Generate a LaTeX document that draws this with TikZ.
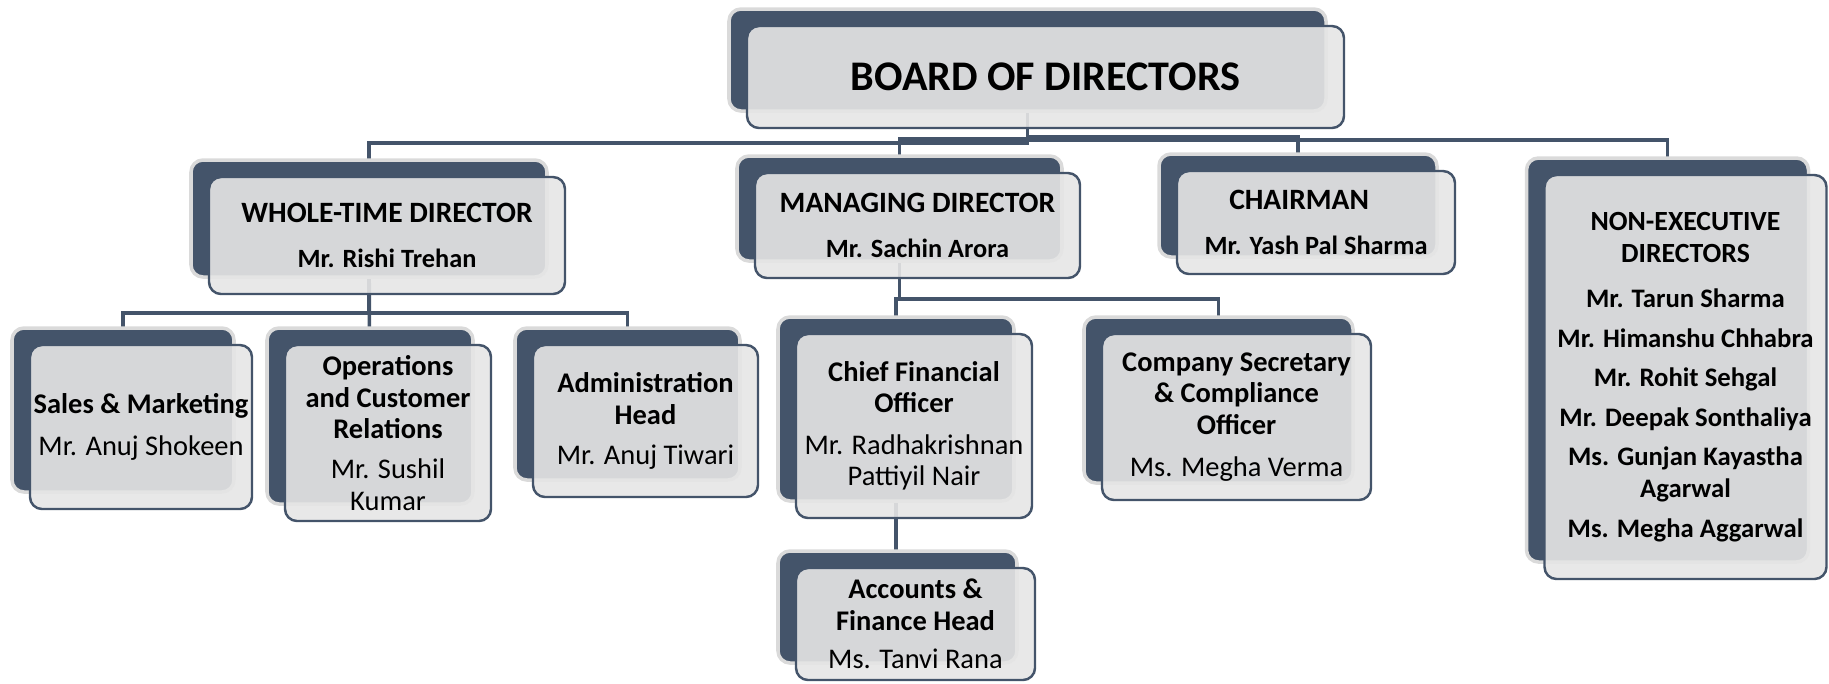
\documentclass[tikz,border=0pt]{standalone}
\usepackage{fontspec}
\setmainfont{Carlito}
\usetikzlibrary{shadows, backgrounds, positioning}
\definecolor{bdSlate}{HTML}{44546A}
\definecolor{bdFront}{HTML}{E6E6E6}
\definecolor{bdEdge}{HTML}{DADADA}
\tikzset{
  unit/.style     = {draw=bdSlate, fill=bdFront, fill opacity=0.9, text opacity=1,
                     line width=0.7pt, rounded corners=1.2mm, inner sep=0pt, align=center,
                     copy shadow={shadow xshift=-1.8mm, shadow yshift=1.7mm, fill=bdSlate,
                                  draw=bdEdge, fill opacity=1, draw opacity=1, line width=1pt}},
  conn/.style     = {bdSlate, line width=1pt},
  toptxt/.style   = {font=\bfseries\fontsize{8.4}{9.4}\selectfont},
  lowtxt/.style   = {font=\fontsize{8.1}{8.9}\selectfont},
  nedtxt/.style   = {font=\bfseries\fontsize{7.6}{9.2}\selectfont},
}

\begin{document}
\begin{tikzpicture}
  \useasboundingbox (0,0) rectangle (18.29,-6.83);

  % board
  \node[unit, minimum width=5.97cm, minimum height=1.02cm,
        font=\bfseries\fontsize{12}{14}\selectfont] (bod) at (10.455,-0.77) {BOARD OF DIRECTORS};

  % directors
  \node[unit, toptxt, minimum width=3.56cm, minimum height=1.17cm] (wtd) at (3.87,-2.355)
    {WHOLE-TIME DIRECTOR\\[3.2pt]{\fontsize{7.5}{9}\selectfont Mr. Rishi Trehan}};
  \node[unit, toptxt, minimum width=3.25cm, minimum height=1.05cm] (md) at (9.175,-2.255)
    {MANAGING DIRECTOR\\[3.2pt]{\fontsize{7.5}{9}\selectfont Mr. Sachin Arora}};
  \node[unit, toptxt, minimum width=2.78cm, minimum height=1.03cm] (chair) at (13.16,-2.225)
    {CHAIRMAN\hspace*{9.6pt}\\[3.2pt]{\fontsize{7.5}{9}\selectfont Mr. Yash Pal Sharma}};
  \node[unit, nedtxt, minimum width=2.82cm, minimum height=4.04cm] (ned) at (16.855,-3.77)
    {{\fontsize{7.9}{9.2}\selectfont NON-EXECUTIVE}\\{\fontsize{7.9}{9.2}\selectfont DIRECTORS}\\[3.6pt]
     Mr. Tarun Sharma\\[2pt]
     Mr. Himanshu Chhabra\\[2pt]
     Mr. Rohit Sehgal\\[2pt]
     Mr. Deepak Sonthaliya\\[2pt]
     Ms. Gunjan Kayastha\\ Agarwal\\[2pt]
     Ms. Megha Aggarwal};

  % heads
  \node[unit, lowtxt, minimum width=2.22cm, minimum height=1.64cm] (sales) at (1.41,-4.27)
    {\textbf{Sales \& Marketing}\\[3pt] Mr. Anuj Shokeen};
  \node[unit, lowtxt, minimum width=2.06cm, minimum height=1.76cm] (ops) at (3.88,-4.33)
    {\textbf{Operations}\\ \textbf{and Customer}\\ \textbf{Relations}\\[2.6pt] Mr. Sushil\\ Kumar};
  \node[unit, lowtxt, minimum width=2.25cm, minimum height=1.52cm] (admin) at (6.455,-4.21)
    {\textbf{Administration}\\ \textbf{Head}\\[2.6pt] Mr. Anuj Tiwari};
  \node[unit, lowtxt, minimum width=2.36cm, minimum height=1.84cm] (cfo) at (9.14,-4.26)
    {\textbf{Chief Financial}\\ \textbf{Officer}\\[3pt] Mr. Radhakrishnan\\ Pattiyil Nair};
  \node[unit, lowtxt, minimum width=2.69cm, minimum height=1.66cm] (cs) at (12.365,-4.17)
    {\textbf{Company Secretary}\\ \textbf{\& Compliance}\\ \textbf{Officer}\\[3pt] Ms. Megha Verma};
  \node[unit, lowtxt, minimum width=2.39cm, minimum height=1.12cm] (acc) at (9.155,-6.24)
    {\textbf{Accounts \&}\\ \textbf{Finance Head}\\[2pt] Ms. Tanvi Rana};

  % connectors, behind the boxes
  \begin{scope}[on background layer]
    \coordinate (bodc)   at ([xshift=-1.8mm]bod.center);
    \coordinate (wtdc)   at ([xshift=-1.8mm]wtd.center);
    \coordinate (mdc)    at ([xshift=-1.8mm]md.center);
    \coordinate (chairc) at ([xshift=-1.8mm]chair.center);
    \coordinate (nedc)   at ([xshift=-1.8mm]ned.center);
    \coordinate (salesc) at ([xshift=-1.8mm]sales.center);
    \coordinate (opsc)   at ([xshift=-1.8mm]ops.center);
    \coordinate (adminc) at ([xshift=-1.8mm]admin.center);
    \coordinate (cfoc)   at ([xshift=-1.8mm]cfo.center);
    \coordinate (csc)    at ([xshift=-1.8mm]cs.center);
    \coordinate (accc)   at ([xshift=-1.8mm]acc.center);

    \draw[conn] (bodc) -- (bodc |- 0,-1.43) -| (wtdc);
    \draw[conn] (bodc) -- (bodc |- 0,-1.39) -| (mdc);
    \draw[conn] (bodc) -- (bodc |- 0,-1.37) -| (chairc);
    \draw[conn] (bodc) -- (bodc |- 0,-1.40) -| (nedc);

    \draw[conn] (wtdc) -- (wtdc |- 0,-3.13) -| (salesc);
    \draw[conn] (wtdc) -- (opsc);
    \draw[conn] (wtdc) -- (wtdc |- 0,-3.13) -| (adminc);

    \draw[conn] (mdc) -- (mdc |- 0,-2.99) -| (cfoc);
    \draw[conn] (mdc) -- (mdc |- 0,-2.99) -| (csc);
    \draw[conn] (cfoc) -- (cfoc |- accc);
  \end{scope}
\end{tikzpicture}
\end{document}
